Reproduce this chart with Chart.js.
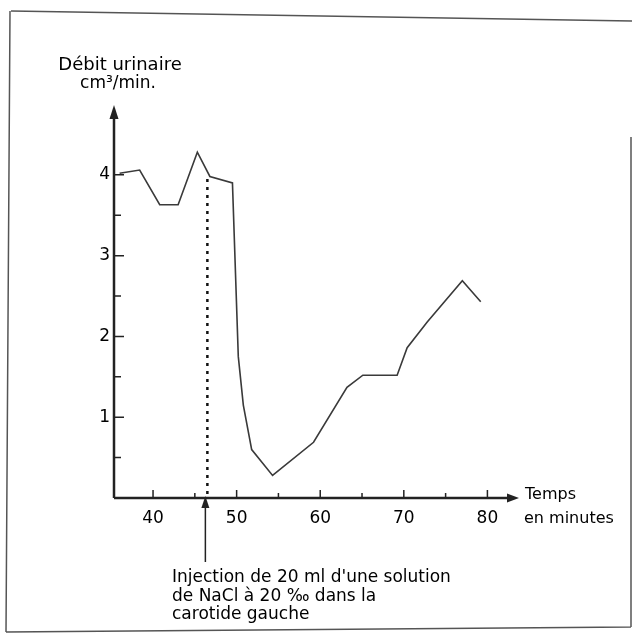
<!DOCTYPE html>
<html>
<head>
    <meta charset="UTF-8">
    <title>Débit urinaire</title>
    <script src="https://cdn.jsdelivr.net/npm/chart.js@4.4.0/dist/chart.umd.min.js"></script>
    <style>
        body { margin: 0; background: #fff; }
        #box { width: 632px; height: 636px; }
    </style>
</head>
<body>
<div id="box"><canvas id="flow-chart"></canvas></div>
<script type="text/javascript">
    /* values: time (min) and urine flow (cm3/min) */
    var minutes = [36.0, 38.4, 40.8, 43.0, 45.3, 46.8, 49.5, 50.2, 50.8, 51.8, 54.3, 59.2, 63.2, 65.1, 69.2, 70.4, 72.8, 77.0, 79.2];
    var debit   = [4.02, 4.06, 3.63, 3.63, 4.28, 3.98, 3.90, 1.75, 1.15, 0.60, 0.28, 0.69, 1.37, 1.52, 1.52, 1.86, 2.18, 2.69, 2.43];

    var xTicks = [40, 50, 60, 70, 80];
    var xMinorTicks = [40, 45, 50, 55, 60, 65, 70, 75, 80];
    var yTicks = [1, 2, 3, 4];
    var yMinorTicks = [0.5, 1, 1.5, 2, 2.5, 3, 3.5, 4];

    var injectionTime = 46.5;
    var injectionText = ["Injection de 20 ml d'une solution", "de NaCl à 20 \u2030 dans la", "carotide gauche"];

    var FONT = "'DejaVu Sans', 'Liberation Sans', sans-serif";
    var INK = '#222';

    var points = minutes.map(function (m, i) { return {x: m, y: debit[i]}; });

    function tri(ctx, a, b, c) {
        ctx.beginPath();
        ctx.moveTo(a[0], a[1]);
        ctx.lineTo(b[0], b[1]);
        ctx.lineTo(c[0], c[1]);
        ctx.closePath();
        ctx.fill();
    }

    /* axes with arrows, inside ticks, titles, injection note and scan frame */
    var drawing = {
        id: 'drawing',
        afterDraw: function (chart) {
            var ctx = chart.ctx;
            var area = chart.chartArea;
            var xs = chart.scales.x, ys = chart.scales.y;
            var x0 = area.left, y0 = area.bottom;
            ctx.save();

            // frame of the scanned page
            ctx.strokeStyle = '#555';
            ctx.lineWidth = 1.5;
            ctx.beginPath();
            ctx.moveTo(11, 11); ctx.lineTo(632, 21);
            ctx.moveTo(10, 11); ctx.lineTo(6, 632);
            ctx.moveTo(6, 632); ctx.lineTo(631, 627);
            ctx.moveTo(631, 137); ctx.lineTo(631, 627);
            ctx.stroke();

            // axes
            ctx.strokeStyle = INK;
            ctx.fillStyle = INK;
            ctx.lineWidth = 2.5;
            ctx.beginPath();
            ctx.moveTo(x0, y0); ctx.lineTo(x0, area.top + 8);
            ctx.moveTo(x0, y0); ctx.lineTo(area.right - 8, y0);
            ctx.stroke();
            tri(ctx, [x0, area.top - 2], [x0 - 4.5, area.top + 12], [x0 + 4.5, area.top + 12]);
            tri(ctx, [area.right + 2, y0], [area.right - 10, y0 - 4.5], [area.right - 10, y0 + 4.5]);

            // tick marks pointing inwards
            ctx.lineWidth = 1.5;
            ctx.beginPath();
            xMinorTicks.forEach(function (v) {
                var px = xs.getPixelForValue(v);
                var len = xTicks.indexOf(v) >= 0 ? 8 : 5;
                ctx.moveTo(px, y0); ctx.lineTo(px, y0 - len);
            });
            yMinorTicks.forEach(function (v) {
                var py = ys.getPixelForValue(v);
                var len = yTicks.indexOf(v) >= 0 ? 10 : 7;
                ctx.moveTo(x0, py); ctx.lineTo(x0 + len, py);
            });
            ctx.stroke();

            // injection marker below the axis
            var ix = xs.getPixelForValue(injectionTime) - 2;
            ctx.lineWidth = 1.5;
            ctx.beginPath();
            ctx.moveTo(ix, y0 + 8); ctx.lineTo(ix, 562);
            ctx.stroke();
            tri(ctx, [ix, y0 - 2], [ix - 4, y0 + 10], [ix + 4, y0 + 10]);

            // texts
            ctx.fillStyle = '#000';
            ctx.font = '18px ' + FONT;
            ctx.textAlign = 'center';
            ctx.textBaseline = 'middle';
            ctx.fillText('Débit urinaire', x0 + 6, 65);
            ctx.font = '17px ' + FONT;
            ctx.fillText('cm\u00b3/min.', x0 + 4, 84);

            ctx.textAlign = 'left';
            ctx.font = '16px ' + FONT;
            ctx.fillText('Temps', 525, 495);
            ctx.fillText('en minutes', 524, 519);

            ctx.font = '17px ' + FONT;
            injectionText.forEach(function (line, i) {
                ctx.fillText(line, 172, 578 + i * 18.5);
            });
            ctx.restore();
        }
    };

    var config = {
        type: 'line',
        data: {
            datasets: [{
                label: 'Débit urinaire',
                data: points,
                borderColor: '#3a3a3a',
                borderWidth: 1.6,
                pointRadius: 0,
                fill: false,
                tension: 0
            }, {
                label: 'Injection',
                data: [{x: injectionTime, y: 3.95}, {x: injectionTime, y: 0}],
                borderColor: '#111',
                borderWidth: 2.5,
                borderDash: [3, 5],
                pointRadius: 0,
                fill: false
            }]
        },
        options: {
            responsive: false,
            animation: false,
            devicePixelRatio: 1,
            layout: {padding: {left: 74, right: 115, top: 107, bottom: 98}},
            plugins: {legend: {display: false}, tooltip: {enabled: false}, title: {display: false}},
            scales: {
                x: {
                    type: 'linear',
                    min: 35.33,
                    max: 83.54,
                    afterFit: function (s) { s.height = 40; },
                    afterBuildTicks: function (s) { s.ticks = xTicks.map(function (v) { return {value: v}; }); },
                    grid: {display: false, drawTicks: false},
                    border: {display: false},
                    ticks: {
                        padding: 10,
                        maxRotation: 0,
                        autoSkip: false,
                        color: '#000',
                        font: {family: FONT, size: 17},
                        callback: function (v) { return String(v); }
                    }
                },
                y: {
                    type: 'linear',
                    min: 0,
                    max: 4.84,
                    afterFit: function (s) { s.width = 40; },
                    afterBuildTicks: function (s) { s.ticks = yTicks.map(function (v) { return {value: v}; }); },
                    grid: {display: false, drawTicks: false},
                    border: {display: false},
                    ticks: {
                        padding: 4,
                        color: '#000',
                        font: {family: FONT, size: 17},
                        callback: function (v) { return String(v); }
                    }
                }
            }
        },
        plugins: [drawing]
    };

    var canvas = document.getElementById('flow-chart');
    canvas.width = 632;
    canvas.height = 636;
    new Chart(canvas, config);
</script>
</body>
</html>
